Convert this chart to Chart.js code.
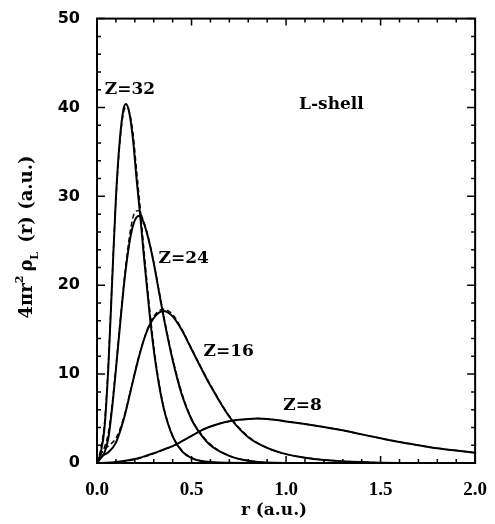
<!DOCTYPE html>
<html>
<head>
<meta charset="utf-8">
<script src="https://cdn.jsdelivr.net/npm/chart.js@4/dist/chart.umd.min.js"></script>
<style>
html,body{margin:0;padding:0;background:#fff;}
#c{display:block;}
</style>
</head>
<body>
<canvas id="c" width="495" height="524"></canvas>
<script>
// ---- data ----
const r32 = [0,0.02,0.04,0.06,0.08,0.10,0.12,0.14,0.153,0.17,0.19,0.21,0.23,0.25,0.28,0.31,0.35,0.40,0.45,0.50,0.60,0.80,1.0,1.5,2.0];
const z32Solid  = [0,1.2,4.0,10.8,20.4,29.8,36.2,39.8,40.4,39.5,36.5,31.8,27.5,22.8,16.4,11.2,6.4,3.0,1.3,0.55,0.1,0,0,0,0];
const z32Dashed = [0,1.6,4.6,11.2,20.6,29.6,35.8,39.4,40.0,39.6,37.2,32.8,28.4,23.6,17.0,11.6,6.6,3.1,1.4,0.6,0.1,0,0,0,0];

const r24 = [0,0.02,0.04,0.06,0.08,0.10,0.12,0.14,0.16,0.18,0.20,0.22,0.24,0.27,0.30,0.33,0.36,0.40,0.45,0.50,0.55,0.60,0.70,0.80,1.0,1.5,2.0];
const z24Solid  = [0,0.6,1.2,2.8,6.2,10.5,15.1,19.5,23.1,25.8,27.3,27.8,27.4,25.4,22.5,19.0,15.6,11.6,7.6,4.9,3.2,2.0,0.8,0.25,0,0,0];
const z24Dashed = [0,1.0,1.8,3.4,6.6,10.8,15.4,19.8,23.6,26.6,28.2,28.4,27.6,25.5,22.6,19.2,15.8,11.8,7.8,5.0,3.3,2.1,0.8,0.25,0,0,0];

const r16 = [0,0.03,0.06,0.10,0.14,0.18,0.22,0.26,0.30,0.35,0.40,0.45,0.50,0.55,0.60,0.70,0.80,0.90,1.0,1.1,1.2,1.4,1.6,2.0];
const z16Solid  = [0,0.8,1.2,2.3,4.8,8.3,11.8,14.6,16.3,17.1,16.5,14.9,12.8,10.7,8.7,5.2,2.9,1.7,1.0,0.6,0.35,0.1,0,0];
const z16Dashed = [0,1.3,1.9,2.8,5.0,8.4,11.9,14.7,16.5,17.3,16.7,15.0,12.9,10.8,8.8,5.3,3.0,1.7,1.0,0.6,0.35,0.1,0,0];

const r8 = [0,0.05,0.1,0.15,0.2,0.25,0.3,0.35,0.4,0.45,0.5,0.55,0.6,0.65,0.7,0.75,0.8,0.85,0.9,0.95,1.0,1.1,1.2,1.3,1.4,1.5,1.6,1.7,1.8,1.9,2.0];
const z8Solid  = [0,0.02,0.1,0.25,0.45,0.75,1.1,1.5,1.9,2.45,3.05,3.65,4.1,4.45,4.7,4.86,4.96,5.0,4.96,4.85,4.68,4.38,4.05,3.68,3.22,2.78,2.36,2.0,1.66,1.4,1.15];
const z8Dashed = [0,0.01,0.06,0.18,0.38,0.68,1.05,1.45,1.9,2.45,3.05,3.65,4.1,4.45,4.7,4.86,4.96,5.0,4.96,4.85,4.68,4.38,4.05,3.68,3.22,2.78,2.36,2.0,1.66,1.4,1.15];

const xTickLabels = ["0.0","0.5","1.0","1.5","2.0"];
const yTickLabels = ["0","10","20","30","40","50"];

const curveLabels = [
  {text:"Z=32", r:0.174, v:42.0},
  {text:"Z=24", r:0.459, v:23.0},
  {text:"Z=16", r:0.697, v:12.5},
  {text:"Z=8",  r:1.087, v:6.5},
  {text:"L-shell", r:1.24, v:40.3}
];

// ---- build datasets ----
function pts(rs, vs){ return rs.map((r,i)=>({x:r, y:vs[i]})); }
function solid(rs, vs){ return {data:pts(rs,vs), borderColor:'#000', borderWidth:2, pointRadius:0, cubicInterpolationMode:'monotone', fill:false}; }
function dashed(rs, vs){ return {data:pts(rs,vs), borderColor:'#000', borderWidth:1.4, borderDash:[5,3], pointRadius:0, cubicInterpolationMode:'monotone', fill:false}; }

const datasets = [
  dashed(r32, z32Dashed), solid(r32, z32Solid),
  dashed(r24, z24Dashed), solid(r24, z24Solid),
  dashed(r16, z16Dashed), solid(r16, z16Solid),
  dashed(r8, z8Dashed),   solid(r8, z8Solid)
];

const SERIF = '"DejaVu Serif", serif';

const decor = {
  id:'decor',
  afterDraw(chart){
    const {ctx, chartArea:a, scales:{x, y}} = chart;
    ctx.save();
    ctx.strokeStyle = '#000';
    // frame
    ctx.lineWidth = 2;
    ctx.strokeRect(a.left, a.top, a.right - a.left, a.bottom - a.top);
    // inward ticks
    ctx.lineWidth = 1.5;
    ctx.beginPath();
    for (let i = 0; i <= 20; i++) {
      const px = x.getPixelForValue(i / 10);
      const len = (i % 5 === 0) ? 7 : 4;
      ctx.moveTo(px, a.bottom); ctx.lineTo(px, a.bottom - len);
      ctx.moveTo(px, a.top);    ctx.lineTo(px, a.top + len);
    }
    for (let i = 0; i <= 25; i++) {
      const py = y.getPixelForValue(i * 2);
      const len = (i % 5 === 0) ? 8 : 4;
      ctx.moveTo(a.left, py);  ctx.lineTo(a.left + len, py);
      ctx.moveTo(a.right, py); ctx.lineTo(a.right - len, py);
    }
    ctx.stroke();

    // curve labels
    ctx.fillStyle = '#000';
    ctx.textAlign = 'center';
    ctx.textBaseline = 'middle';
    ctx.font = 'bold 17px ' + SERIF;
    curveLabels.forEach(l => {
      ctx.fillText(l.text, x.getPixelForValue(l.r), y.getPixelForValue(l.v));
    });

    // x axis title
    ctx.font = 'bold 17px ' + SERIF;
    ctx.textBaseline = 'middle';
    ctx.fillText('r (a.u.)', 274, 511);

    // y axis title (rotated) : 4πr² ρ_L (r) (a.u.)
    ctx.save();
    ctx.translate(32, 237);
    ctx.rotate(-Math.PI / 2);
    ctx.textAlign = 'left';
    ctx.textBaseline = 'alphabetic';
    const big = 'bold 18px ' + SERIF, small = 'bold 11px ' + SERIF;
    const parts = [
      {t:'4\u03C0r', f:big, dy:0},
      {t:'2', f:small, dy:-9, gapAfter:4},
      {t:'\u03C1', f:big, dy:0},
      {t:'L', f:small, dy:6, gapAfter:3},
      {t:' (r) (a.u.)', f:big, dy:0}
    ];
    let total = 0;
    parts.forEach(p => { ctx.font = p.f; p.w = ctx.measureText(p.t).width + (p.gapAfter || 0); total += p.w; });
    let cx = -total / 2;
    parts.forEach(p => { ctx.font = p.f; ctx.fillText(p.t, cx, p.dy); cx += p.w; });
    ctx.restore();

    ctx.restore();
  }
};

new Chart(document.getElementById('c'), {
  type: 'line',
  data: { datasets },
  options: {
    responsive: false,
    animation: false,
    devicePixelRatio: 1,
    layout: { padding: { top: 16, right: 19, left: 0, bottom: 0 } },
    plugins: { legend: { display: false }, tooltip: { enabled: false } },
    scales: {
      x: {
        type: 'linear', min: 0, max: 2,
        grid: { display: false }, border: { display: false },
        ticks: {
          stepSize: 0.5, padding: 8, color: '#000',
          font: { family: '"Liberation Serif", serif', weight: 'bold', size: 19 },
          callback: (v, i) => xTickLabels[Math.round(v * 2)] ?? ''
        },
        afterFit: s => { s.height = 61; }
      },
      y: {
        type: 'linear', min: 0, max: 50,
        grid: { display: false }, border: { display: false },
        ticks: {
          stepSize: 10, padding: 9, color: '#000',
          font: { family: '"DejaVu Sans", sans-serif', weight: 'bold', size: 16 },
          callback: v => yTickLabels[Math.round(v / 10)] ?? ''
        },
        afterFit: s => { s.width = 97; }
      }
    }
  },
  plugins: [decor]
});
</script>
</body>
</html>
